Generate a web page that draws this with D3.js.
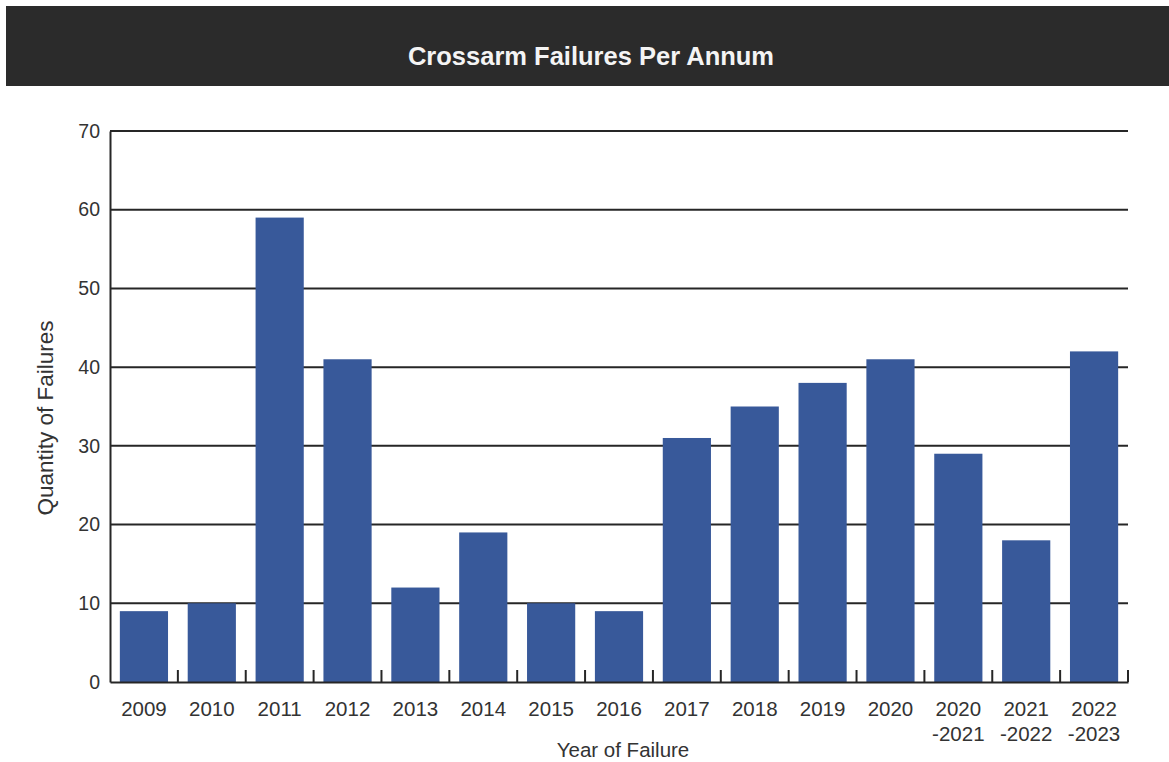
<!DOCTYPE html>
<html><head><meta charset="utf-8">
<script src="https://cdn.jsdelivr.net/npm/d3@7"></script>
<style>
html,body{margin:0;padding:0;background:#fff;}
svg{display:block;}
</style></head>
<body>
<svg id="chart" width="1169" height="762"></svg>
<script>
const categories = ["2009","2010","2011","2012","2013","2014","2015","2016","2017","2018","2019","2020","2020\n-2021","2021\n-2022","2022\n-2023"];
const failures = [9,10,59,41,12,19,10,9,31,35,38,41,29,18,42];
const yTicks = [0,10,20,30,40,50,60,70];
const chartTitle = "Crossarm Failures Per Annum";
const xTitle = "Year of Failure";
const yTitle = "Quantity of Failures";

(function() {
const svg = d3.select("#chart");
const font = "'Liberation Sans', Arial, Helvetica, sans-serif";
const mLeft = 110, mRight = 1128, mTop = 131, mBottom = 682;

svg.append("rect").attr("x", 6).attr("y", 6).attr("width", 1163).attr("height", 80).attr("fill", "#2b2b2b");
svg.append("text").attr("x", 591).attr("y", 56).attr("text-anchor", "middle").attr("dominant-baseline", "central")
  .attr("font-family", font).attr("font-weight", "bold").attr("font-size", 25.5).attr("fill", "#f4f4f4").text(chartTitle);

const x = d3.scaleBand().domain(categories).range([mLeft, mRight]).paddingInner(0.29).paddingOuter(0.145);
const y = d3.scaleLinear().domain([0, 70]).range([mBottom, mTop]);

svg.append("g").selectAll("line").data(yTicks.filter(d => d > 0)).join("line")
  .attr("x1", mLeft).attr("x2", mRight).attr("y1", d => y(d)).attr("y2", d => y(d))
  .attr("stroke", "#262626").attr("stroke-width", 2);

svg.append("g").selectAll("rect").data(failures).join("rect")
  .attr("x", (d, i) => x(categories[i])).attr("width", x.bandwidth())
  .attr("y", d => y(d)).attr("height", d => y(0) - y(d))
  .attr("fill", "#38599a");

const yAxis = svg.append("g").attr("transform", `translate(${mLeft},0)`)
  .call(d3.axisLeft(y).tickValues(yTicks).tickSize(0).tickPadding(10));
yAxis.select(".domain").attr("stroke", "#262626").attr("stroke-width", 2);
yAxis.selectAll("text").attr("font-family", font).attr("font-size", 19.5).attr("fill", "#333");

const step = x.step();
const xAxis = svg.append("g").attr("transform", `translate(0,${mBottom})`)
  .call(d3.axisBottom(x).tickSize(0).tickFormat(""));
xAxis.select(".domain").attr("stroke", "#262626").attr("stroke-width", 2);
const boundary = d => x(d) - step * x.paddingOuter() + step;
svg.append("g").selectAll("line").data(categories).join("line")
  .attr("x1", boundary).attr("x2", boundary)
  .attr("y1", mBottom).attr("y2", mBottom - 12).attr("stroke", "#262626").attr("stroke-width", 2);

const lab = svg.append("g").selectAll("text").data(categories).join("text")
  .attr("x", d => x(d) + x.bandwidth() / 2).attr("y", 716)
  .attr("text-anchor", "middle").attr("font-family", font).attr("font-size", 20.5).attr("fill", "#333");
lab.each(function(d) {
  const parts = d.split("\n");
  const cx = x(d) + x.bandwidth() / 2;
  d3.select(this).selectAll("tspan").data(parts).join("tspan")
    .attr("x", cx).attr("dy", (p, i) => i === 0 ? 0 : 25).text(p => p);
});

svg.append("text").attr("x", 623).attr("y", 757).attr("text-anchor", "middle")
  .attr("font-family", font).attr("font-size", 20.5).attr("fill", "#333").text(xTitle);
svg.append("text").attr("transform", "translate(53,418) rotate(-90)").attr("text-anchor", "middle")
  .attr("font-family", font).attr("font-size", 22.5).attr("fill", "#333").text(yTitle);
})();
</script>
</body></html>
